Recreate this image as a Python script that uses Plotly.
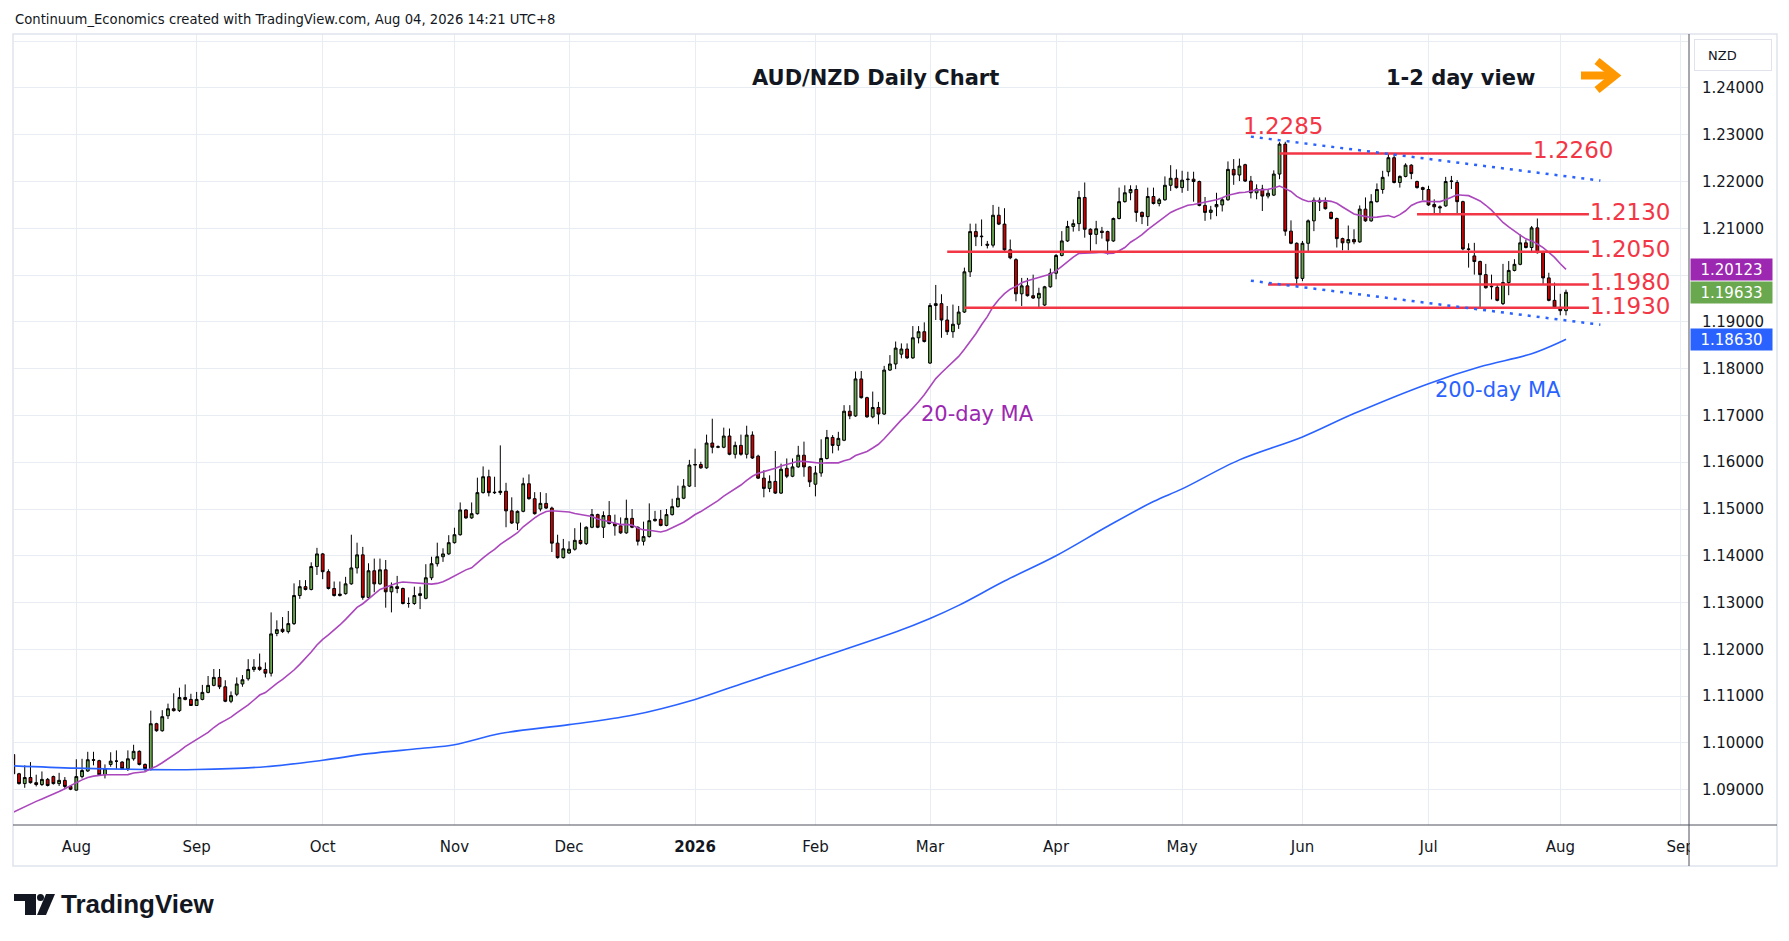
import pandas as pd
import plotly.graph_objects as go

# AUD/NZD daily candles, 17 Jul 2025 - 4 Aug 2026
opens = [
    # Jul 2025
    1.0975, 1.0934, 1.0913, 1.0926, 1.0915, 1.0911, 1.0922, 1.0928, 1.0913, 1.0920, 1.0907,
    # Aug
    1.0899, 1.0928, 1.0940, 1.0964, 1.0962, 1.0932, 1.0954, 1.0961, 1.0959, 1.0945, 1.0966,
    1.0982, 1.0954, 1.0945, 1.1041, 1.1026, 1.1058, 1.1073, 1.1069, 1.1097, 1.1093,
    # Sep
    1.1080, 1.1093, 1.1108, 1.1123, 1.1140, 1.1120, 1.1089, 1.1104, 1.1126, 1.1137, 1.1157,
    1.1162, 1.1157, 1.1149, 1.1234, 1.1243, 1.1238, 1.1255, 1.1315, 1.1334, 1.1328, 1.1377,
    # Oct
    1.1404, 1.1366, 1.1330, 1.1315, 1.1319, 1.1340, 1.1374, 1.1402, 1.1311, 1.1368, 1.1340,
    1.1370, 1.1323, 1.1334, 1.1330, 1.1298, 1.1298, 1.1315, 1.1309, 1.1353, 1.1383, 1.1398, 1.1404,
    # Nov
    1.1428, 1.1445, 1.1498, 1.1481, 1.1490, 1.1535, 1.1569, 1.1536, 1.1535, 1.1538,
    1.1496, 1.1470, 1.1495, 1.1554, 1.1522, 1.1500, 1.1512, 1.1502, 1.1427, 1.1396,
    # Dec
    1.1406, 1.1414, 1.1433, 1.1426, 1.1461, 1.1488, 1.1461, 1.1486, 1.1469, 1.1464, 1.1449,
    1.1480, 1.1461, 1.1431, 1.1441, 1.1475, 1.1478, 1.1465, 1.1488, 1.1505, 1.1523, 1.1549,
    # Jan 2026
    1.1594, 1.1595, 1.1588, 1.1641, 1.1632, 1.1632, 1.1656, 1.1617, 1.1636, 1.1617, 1.1658,
    1.1613, 1.1566, 1.1544, 1.1559, 1.1534, 1.1587, 1.1570, 1.1590, 1.1615, 1.1590,
    # Feb
    1.1553, 1.1577, 1.1608, 1.1653, 1.1636, 1.1647, 1.1709, 1.1699, 1.1778, 1.1738,
    1.1697, 1.1717, 1.1703, 1.1797, 1.1810, 1.1831, 1.1842, 1.1823, 1.1866, 1.1879,
    # Mar
    1.1812, 1.1935, 1.1939, 1.1904, 1.1879, 1.1895, 1.1921, 1.2007, 1.2093, 1.2082, 1.2066,
    1.2064, 1.2128, 1.2109, 1.2054, 1.2033, 1.1960, 1.1977, 1.1956, 1.1951, 1.1936, 1.1975,
    # Apr
    1.2004, 1.2042, 1.2073, 1.2104, 1.2110, 1.2166, 1.2098, 1.2087, 1.2094, 1.2093, 1.2073,
    1.2121, 1.2157, 1.2176, 1.2183, 1.2134, 1.2125, 1.2168, 1.2153, 1.2161, 1.2192, 1.2207,
    # May
    1.2187, 1.2204, 1.2205, 1.2200, 1.2149, 1.2134, 1.2146, 1.2150, 1.2161, 1.2226, 1.2214,
    1.2236, 1.2201, 1.2176, 1.2184, 1.2169, 1.2171, 1.2216, 1.2280, 1.2094, 1.2068,
    # Jun
    1.1993, 1.2068, 1.2116, 1.2160, 1.2156, 1.2134, 1.2121, 1.2078, 1.2069, 1.2076, 1.2071,
    1.2141, 1.2116, 1.2157, 1.2183, 1.2221, 1.2251, 1.2198, 1.2211, 1.2235, 1.2200, 1.2187,
    # Jul
    1.2183, 1.2151, 1.2146, 1.2148, 1.2200, 1.2198, 1.2157, 1.2056, 1.2041, 1.2029, 1.2001, 1.1975,
    1.1974, 1.1939, 1.1984, 1.2010, 1.2023, 1.2069, 1.2059, 1.2101, 1.2050, 1.1994, 1.1946,
    # Aug
    1.1931, 1.1924,
]
highs = [
    1.0982, 1.0936, 1.0952, 1.0959, 1.0932, 1.0939, 1.0925, 1.0930, 1.0936, 1.0927, 1.0909,
    1.0965, 1.0966, 1.0981, 1.0981, 1.0964, 1.0954, 1.0980, 1.0984, 1.0961, 1.0984, 1.0996,
    1.0984, 1.0956, 1.1069, 1.1043, 1.1070, 1.1084, 1.1106, 1.1118, 1.1125, 1.1105,
    1.1109, 1.1124, 1.1143, 1.1158, 1.1158, 1.1134, 1.1110, 1.1140, 1.1145, 1.1179, 1.1179,
    1.1191, 1.1172, 1.1279, 1.1262, 1.1269, 1.1282, 1.1341, 1.1348, 1.1348, 1.1386, 1.1417,
    1.1406, 1.1371, 1.1345, 1.1345, 1.1355, 1.1445, 1.1428, 1.1419, 1.1384, 1.1394, 1.1394,
    1.1391, 1.1343, 1.1357, 1.1332, 1.1311, 1.1334, 1.1334, 1.1382, 1.1398, 1.1428, 1.1416, 1.1444,
    1.1460, 1.1514, 1.1500, 1.1514, 1.1567, 1.1591, 1.1584, 1.1569, 1.1636, 1.1556,
    1.1525, 1.1497, 1.1567, 1.1574, 1.1536, 1.1536, 1.1534, 1.1505, 1.1445, 1.1436,
    1.1431, 1.1459, 1.1471, 1.1463, 1.1500, 1.1490, 1.1495, 1.1517, 1.1488, 1.1482, 1.1520,
    1.1500, 1.1463, 1.1473, 1.1512, 1.1496, 1.1498, 1.1500, 1.1522, 1.1550, 1.1564, 1.1605,
    1.1629, 1.1601, 1.1659, 1.1693, 1.1636, 1.1674, 1.1672, 1.1644, 1.1659, 1.1678, 1.1666,
    1.1616, 1.1583, 1.1572, 1.1624, 1.1597, 1.1608, 1.1608, 1.1635, 1.1644, 1.1592,
    1.1592, 1.1649, 1.1669, 1.1658, 1.1665, 1.1722, 1.1722, 1.1794, 1.1795, 1.1740,
    1.1751, 1.1729, 1.1806, 1.1829, 1.1858, 1.1854, 1.1854, 1.1891, 1.1891, 1.1899,
    1.1940, 1.1979, 1.1959, 1.1934, 1.1937, 1.1934, 1.2016, 1.2110, 1.2110, 1.2119, 1.2073,
    1.2150, 1.2146, 1.2143, 1.2076, 1.2036, 1.1994, 1.1994, 1.2001, 1.1973, 1.1977, 1.2014,
    1.2045, 1.2094, 1.2116, 1.2119, 1.2180, 1.2198, 1.2100, 1.2116, 1.2103, 1.2095, 1.2123,
    1.2187, 1.2192, 1.2192, 1.2192, 1.2136, 1.2187, 1.2187, 1.2165, 1.2211, 1.2235, 1.2226,
    1.2223, 1.2221, 1.2221, 1.2202, 1.2167, 1.2148, 1.2176, 1.2165, 1.2243, 1.2248, 1.2249,
    1.2238, 1.2212, 1.2194, 1.2193, 1.2184, 1.2224, 1.2284, 1.2285, 1.2117, 1.2070,
    1.2073, 1.2119, 1.2166, 1.2166, 1.2166, 1.2136, 1.2123, 1.2080, 1.2106, 1.2098, 1.2149,
    1.2166, 1.2173, 1.2196, 1.2223, 1.2259, 1.2259, 1.2213, 1.2239, 1.2237, 1.2202, 1.2189,
    1.2191, 1.2162, 1.2149, 1.2210, 1.2212, 1.2203, 1.2159, 1.2068, 1.2069, 1.2031, 1.2024, 1.2001,
    1.1981, 1.2024, 1.2030, 1.2034, 1.2087, 1.2076, 1.2105, 1.2121, 1.2052, 1.2005, 1.1984,
    1.1960, 1.1969,
]
lows = [
    1.0930, 1.0911, 1.0904, 1.0913, 1.0907, 1.0908, 1.0907, 1.0911, 1.0908, 1.0902, 1.0899,
    1.0898, 1.0924, 1.0938, 1.0952, 1.0930, 1.0924, 1.0949, 1.0944, 1.0943, 1.0940, 1.0962,
    1.0952, 1.0939, 1.0941, 1.1024, 1.1024, 1.1051, 1.1067, 1.1066, 1.1091, 1.1079,
    1.1079, 1.1091, 1.1106, 1.1121, 1.1115, 1.1087, 1.1085, 1.1100, 1.1120, 1.1133, 1.1152,
    1.1154, 1.1140, 1.1142, 1.1228, 1.1235, 1.1234, 1.1252, 1.1308, 1.1326, 1.1326, 1.1359,
    1.1350, 1.1328, 1.1313, 1.1313, 1.1317, 1.1338, 1.1362, 1.1306, 1.1308, 1.1322, 1.1338,
    1.1289, 1.1279, 1.1320, 1.1296, 1.1289, 1.1295, 1.1286, 1.1307, 1.1348, 1.1377, 1.1387, 1.1402,
    1.1426, 1.1443, 1.1479, 1.1479, 1.1488, 1.1533, 1.1527, 1.1532, 1.1530, 1.1461,
    1.1468, 1.1455, 1.1493, 1.1520, 1.1488, 1.1495, 1.1500, 1.1408, 1.1394, 1.1394,
    1.1404, 1.1411, 1.1424, 1.1423, 1.1459, 1.1459, 1.1438, 1.1467, 1.1443, 1.1447, 1.1447,
    1.1459, 1.1422, 1.1422, 1.1439, 1.1473, 1.1463, 1.1463, 1.1486, 1.1503, 1.1521, 1.1547,
    1.1547, 1.1586, 1.1586, 1.1619, 1.1630, 1.1630, 1.1615, 1.1608, 1.1614, 1.1608, 1.1607,
    1.1564, 1.1525, 1.1536, 1.1532, 1.1532, 1.1566, 1.1568, 1.1588, 1.1569, 1.1547,
    1.1527, 1.1569, 1.1606, 1.1619, 1.1625, 1.1645, 1.1692, 1.1697, 1.1736, 1.1695,
    1.1694, 1.1681, 1.1701, 1.1795, 1.1799, 1.1822, 1.1821, 1.1821, 1.1854, 1.1856,
    1.1810, 1.1904, 1.1866, 1.1872, 1.1866, 1.1885, 1.1919, 1.1996, 1.2062, 1.2062, 1.2057,
    1.2059, 1.2107, 1.2052, 1.2034, 1.1944, 1.1934, 1.1954, 1.1949, 1.1931, 1.1934, 1.1973,
    1.1991, 1.2040, 1.2071, 1.2093, 1.2094, 1.2080, 1.2051, 1.2066, 1.2078, 1.2044, 1.2071,
    1.2119, 1.2155, 1.2160, 1.2114, 1.2109, 1.2105, 1.2151, 1.2147, 1.2159, 1.2180, 1.2185,
    1.2176, 1.2180, 1.2157, 1.2147, 1.2116, 1.2119, 1.2126, 1.2136, 1.2159, 1.2193, 1.2201,
    1.2199, 1.2164, 1.2162, 1.2137, 1.2164, 1.2169, 1.2205, 1.2084, 1.2066, 1.1978,
    1.1987, 1.2051, 1.2094, 1.2137, 1.2140, 1.2119, 1.2059, 1.2053, 1.2053, 1.2066, 1.2069,
    1.2114, 1.2114, 1.2155, 1.2174, 1.2211, 1.2196, 1.2187, 1.2209, 1.2205, 1.2185, 1.2160,
    1.2148, 1.2130, 1.2131, 1.2146, 1.2184, 1.2131, 1.2053, 1.2016, 1.2001, 1.1931, 1.1971, 1.1948,
    1.1944, 1.1936, 1.1957, 1.2008, 1.2021, 1.2057, 1.2048, 1.2046, 1.1980, 1.1944, 1.1929,
    1.1914, 1.1914,
]
closes = [
    1.0934, 1.0913, 1.0926, 1.0915, 1.0911, 1.0922, 1.0909, 1.0913, 1.0920, 1.0907, 1.0901,
    1.0928, 1.0941, 1.0964, 1.0963, 1.0932, 1.0945, 1.0961, 1.0961, 1.0945, 1.0966, 1.0982,
    1.0954, 1.0945, 1.1041, 1.1026, 1.1056, 1.1073, 1.1069, 1.1097, 1.1093, 1.1080,
    1.1093, 1.1108, 1.1123, 1.1140, 1.1120, 1.1089, 1.1101, 1.1126, 1.1135, 1.1157, 1.1162,
    1.1157, 1.1149, 1.1233, 1.1242, 1.1238, 1.1255, 1.1315, 1.1334, 1.1328, 1.1377, 1.1404,
    1.1366, 1.1330, 1.1315, 1.1318, 1.1340, 1.1374, 1.1402, 1.1311, 1.1368, 1.1340, 1.1370,
    1.1323, 1.1334, 1.1330, 1.1298, 1.1298, 1.1315, 1.1319, 1.1353, 1.1383, 1.1398, 1.1404, 1.1428,
    1.1445, 1.1498, 1.1481, 1.1490, 1.1535, 1.1569, 1.1535, 1.1535, 1.1538, 1.1496,
    1.1470, 1.1495, 1.1554, 1.1522, 1.1490, 1.1512, 1.1502, 1.1427, 1.1396, 1.1415,
    1.1414, 1.1433, 1.1426, 1.1461, 1.1488, 1.1461, 1.1486, 1.1469, 1.1464, 1.1449, 1.1480,
    1.1461, 1.1431, 1.1441, 1.1475, 1.1478, 1.1465, 1.1488, 1.1505, 1.1523, 1.1549, 1.1594,
    1.1595, 1.1588, 1.1641, 1.1632, 1.1633, 1.1656, 1.1617, 1.1636, 1.1617, 1.1658, 1.1609,
    1.1566, 1.1544, 1.1559, 1.1534, 1.1585, 1.1570, 1.1590, 1.1615, 1.1590, 1.1558,
    1.1577, 1.1608, 1.1653, 1.1636, 1.1651, 1.1709, 1.1699, 1.1778, 1.1738, 1.1697,
    1.1717, 1.1703, 1.1797, 1.1810, 1.1844, 1.1842, 1.1823, 1.1866, 1.1879, 1.1858,
    1.1935, 1.1939, 1.1904, 1.1879, 1.1895, 1.1921, 1.2007, 1.2093, 1.2082, 1.2083, 1.2064,
    1.2128, 1.2109, 1.2054, 1.2037, 1.1960, 1.1977, 1.1956, 1.1951, 1.1961, 1.1975, 1.2004,
    1.2042, 1.2073, 1.2104, 1.2110, 1.2166, 1.2098, 1.2087, 1.2099, 1.2091, 1.2073, 1.2121,
    1.2157, 1.2176, 1.2183, 1.2134, 1.2125, 1.2168, 1.2153, 1.2161, 1.2192, 1.2207, 1.2187,
    1.2203, 1.2205, 1.2200, 1.2149, 1.2134, 1.2139, 1.2151, 1.2161, 1.2226, 1.2214, 1.2233,
    1.2201, 1.2176, 1.2184, 1.2169, 1.2175, 1.2216, 1.2280, 1.2094, 1.2068, 1.1993,
    1.2068, 1.2116, 1.2160, 1.2156, 1.2142, 1.2121, 1.2078, 1.2069, 1.2076, 1.2071, 1.2141,
    1.2116, 1.2157, 1.2183, 1.2209, 1.2251, 1.2198, 1.2211, 1.2235, 1.2217, 1.2187, 1.2183,
    1.2150, 1.2146, 1.2144, 1.2200, 1.2201, 1.2157, 1.2056, 1.2055, 1.2029, 1.2001, 1.1973, 1.1976,
    1.1946, 1.1984, 1.2010, 1.2023, 1.2069, 1.2059, 1.2101, 1.2048, 1.1994, 1.1946, 1.1931,
    1.1924, 1.19633,
]

# 20-day MA for the first 19 bars (history before the window)
ma20_head = [1.0852, 1.0858, 1.0864, 1.0870, 1.0875, 1.0880, 1.0885, 1.0890, 1.0896, 1.0902,
             1.0909, 1.0915, 1.0921, 1.0926, 1.0929, 1.0931, 1.0932, 1.0932, 1.0932]

# 200-day MA sampled along the curve
ma200_dates = ["2025-07-17", "2025-08-01", "2025-08-19", "2025-09-01", "2025-09-17", "2025-10-01",
               "2025-10-13", "2025-10-24", "2025-11-03", "2025-11-13", "2025-12-01", "2025-12-16",
               "2026-01-02", "2026-01-14", "2026-02-02", "2026-02-20", "2026-03-02", "2026-03-09",
               "2026-03-19", "2026-04-01", "2026-04-14", "2026-04-24", "2026-05-01", "2026-05-15",
               "2026-06-01", "2026-06-12", "2026-07-01", "2026-07-14", "2026-07-27", "2026-08-03",
               "2026-08-04"]
ma200_vals = [1.0951, 1.0946, 1.0943, 1.0943, 1.0949, 1.0963, 1.0977, 1.0988, 1.0996, 1.1020,
              1.1039, 1.1059, 1.1093, 1.1126, 1.1179, 1.1237, 1.1266, 1.1294, 1.1346, 1.1400,
              1.1463, 1.1516, 1.1543, 1.1605, 1.1654, 1.1704, 1.1768, 1.1804, 1.1832, 1.1857,
              1.1863]

levels = [1.2260, 1.2130, 1.2050, 1.1980, 1.1930]
peak_high = 1.2285
last_labels = [1.20123, 1.19633, 1.18630]   # 20MA, last close, 200MA

month_ticks = ["2025-08-01", "2025-09-01", "2025-10-01", "2025-11-03", "2025-12-01", "2026-01-02",
               "2026-02-02", "2026-03-02", "2026-04-01", "2026-05-01", "2026-06-01", "2026-07-01",
               "2026-08-03", "2026-09-01"]
month_labels = ["Aug", "Sep", "Oct", "Nov", "Dec", "<b>2026</b>", "Feb", "Mar", "Apr", "May",
                "Jun", "Jul", "Aug", "Sep"]
price_ticks = [1.09, 1.10, 1.11, 1.12, 1.13, 1.14, 1.15, 1.16, 1.17, 1.18, 1.19, 1.20, 1.21,
               1.22, 1.23, 1.24, 1.25]
hidden_ticks = [1.20, 1.25]   # covered by the MA price tag / the currency box

holidays = ["2025-12-25", "2026-01-01"]
dates = pd.bdate_range("2025-07-17", "2026-08-04")
dates = dates[~dates.isin(pd.to_datetime(holidays))]

ma20 = pd.Series(closes).rolling(20).mean()
ma20.iloc[:19] = ma20_head

RED = "#f23645"
BLUE = "#2962ff"
PURPLE = "#9c27b0"
FONT = "DejaVu Sans"


# reference pixel -> paper coords (plot area is x 14..1688, y 34..825)
def px(x):
    return (x - 14) / 1674


def py(y):
    return (825 - y) / 791


fig = go.Figure()

fig.add_trace(go.Scatter(x=ma200_dates, y=ma200_vals, mode="lines", line_shape="spline",
                         line=dict(color=BLUE, width=1.6), hoverinfo="skip"))
fig.add_trace(go.Scatter(x=dates, y=ma20, mode="lines",
                         line=dict(color="#ab47bc", width=1.6), hoverinfo="skip"))
fig.add_trace(go.Candlestick(
    x=dates, open=opens, high=highs, low=lows, close=closes,
    increasing=dict(fillcolor="#6aa84f", line=dict(color="#000000", width=1)),
    decreasing=dict(fillcolor="#cc0000", line=dict(color="#000000", width=1)),
))

shapes = []
# support / resistance lines
line_span = {1.2260: ("2026-05-26", "2026-07-27"), 1.2130: ("2026-06-29", "2026-08-10"),
             1.2050: ("2026-03-05", "2026-08-10"), 1.1980: ("2026-05-22", "2026-08-10"),
             1.1930: ("2026-03-10", "2026-08-10")}
for lv in levels:
    x0, x1 = line_span[lv]
    shapes.append(dict(type="line", xref="x", yref="y", x0=x0, x1=x1, y0=lv, y1=lv,
                       line=dict(color=RED, width=2.5)))
# dotted channel
shapes.append(dict(type="line", xref="x", yref="y", x0="2026-05-19", x1="2026-08-12",
                   y0=1.2296, y1=1.2202, line=dict(color=BLUE, width=2.5, dash="3px,6px")))
shapes.append(dict(type="line", xref="x", yref="y", x0="2026-05-19", x1="2026-08-12",
                   y0=1.1988, y1=1.1894, line=dict(color=BLUE, width=2.5, dash="3px,6px")))
# orange arrow
shapes.append(dict(type="line", xref="paper", yref="paper", x0=px(1581), x1=px(1612),
                   y0=py(75.5), y1=py(75.5), line=dict(color="#ff9800", width=8)))
shapes.append(dict(type="path", xref="paper", yref="paper",
                   path=f"M {px(1597)},{py(61)} L {px(1615)},{py(75.5)} L {px(1597)},{py(90)}",
                   line=dict(color="#ff9800", width=8)))
# panel frame, hide time label under price scale, scale lines
shapes.append(dict(type="rect", xref="paper", yref="paper", x0=px(1690), x1=px(1776),
                   y0=py(864), y1=py(826), fillcolor="white", line=dict(width=0)))
shapes.append(dict(type="rect", xref="paper", yref="paper", x0=px(13), x1=px(1777),
                   y0=py(866), y1=py(34), line=dict(color="#e0e3eb", width=1.5)))
shapes.append(dict(type="line", xref="paper", yref="paper", x0=px(13), x1=px(1777),
                   y0=py(825), y1=py(825), line=dict(color="#50535e", width=1)))
shapes.append(dict(type="line", xref="paper", yref="paper", x0=px(1689), x1=px(1689),
                   y0=py(866), y1=py(34), line=dict(color="#50535e", width=1)))
# TradingView logo mark
shapes.append(dict(type="rect", xref="paper", yref="paper", x0=px(14), x1=px(36),
                   y0=py(901), y1=py(894), fillcolor="#131722", line=dict(width=0)))
shapes.append(dict(type="rect", xref="paper", yref="paper", x0=px(25), x1=px(36),
                   y0=py(915), y1=py(894), fillcolor="#131722", line=dict(width=0)))
shapes.append(dict(type="circle", xref="paper", yref="paper", x0=px(37), x1=px(44),
                   y0=py(901), y1=py(894), fillcolor="#131722", line=dict(width=0)))
shapes.append(dict(type="path", xref="paper", yref="paper",
                   path=f"M {px(46)},{py(894)} L {px(55)},{py(894)} L {px(46)},{py(915)} "
                        f"L {px(37)},{py(915)} Z",
                   fillcolor="#131722", line=dict(width=0)))


def text_at(text, x, y, size, color, xanchor="center", **kw):
    return dict(text=text, xref="paper", yref="paper", x=px(x), y=py(y), xanchor=xanchor,
                yanchor="middle", showarrow=False, font=dict(size=size, color=color), **kw)


ann = []
ann.append(text_at("Continuum_Economics created with TradingView.com, Aug 04, 2026 14:21 UTC+8",
                   13, 19.5, 13.2, "#131722", xanchor="left"))
ann.append(text_at("<b>AUD/NZD Daily Chart</b>", 875, 77.5, 21, "#131722"))
ann.append(text_at("<b>1-2 day view</b>", 1460, 77.5, 21, "#131722"))
ann.append(text_at(f"{peak_high:.4f}", 1283, 126.5, 23, RED))
label_pos = {1.2260: (1532, 150), 1.2130: (1589, 211.7), 1.2050: (1589, 249.3),
             1.1980: (1589, 281.7), 1.1930: (1589, 306)}
for lv in levels:
    lx, ly = label_pos[lv]
    ann.append(text_at(f"{lv:.4f}", lx, ly, 23, RED, xanchor="left", borderpad=0))
ann.append(text_at("20-day MA", 977, 414, 21, PURPLE))
ann.append(text_at("200-day MA", 1498, 390, 21, BLUE))
for val, col in zip(last_labels, [PURPLE, "#6aa84f", BLUE]):
    ann.append(dict(text=f"{val:.5f}", xref="paper", yref="y", x=px(1690), y=val,
                    xanchor="left", yanchor="middle", showarrow=False, bgcolor=col,
                    width=81, height=21, borderpad=0,
                    font=dict(size=15, color="white")))
ann.append(text_at("\u2002\u2002NZD", 1694, 55, 13, "#131722", xanchor="left", width=76,
                   height=30, align="left", borderpad=0, bordercolor="#e0e3eb",
                   borderwidth=1, bgcolor="white"))
tv = text_at("<b>TradingView</b>", 59, 904, 26, "#131722", xanchor="left")
tv["font"]["family"] = "Liberation Sans"
ann.append(tv)

fig.update_layout(
    width=1773, height=925,
    margin=dict(l=6, r=93, t=26, b=108),
    paper_bgcolor="white", plot_bgcolor="white",
    font=dict(family=FONT, size=15, color="#131722"),
    showlegend=False, hovermode=False,
    shapes=shapes, annotations=ann,
    xaxis=dict(
        type="date", range=["2025-07-17 03:00", "2026-09-02 07:00"],
        rangebreaks=[dict(bounds=["sat", "mon"]), dict(values=holidays)],
        rangeslider=dict(visible=False),
        tickvals=month_ticks, ticktext=month_labels, ticks="",
        showgrid=True, gridcolor="#e8edf3", gridwidth=1,
        showline=False, zeroline=False, tickfont=dict(size=15), ticklabelstandoff=11,
    ),
    yaxis=dict(
        side="right", range=[1.08245, 1.25154],
        tickvals=price_ticks,
        ticktext=["" if v in hidden_ticks else f"{v:.5f}" for v in price_ticks],
        showgrid=True, gridcolor="#e8edf3", gridwidth=1,
        showline=False, zeroline=False, ticks="", tickfont=dict(size=15),
        ticklabelstandoff=13,
    ),
)

fig.write_html("out.html")
